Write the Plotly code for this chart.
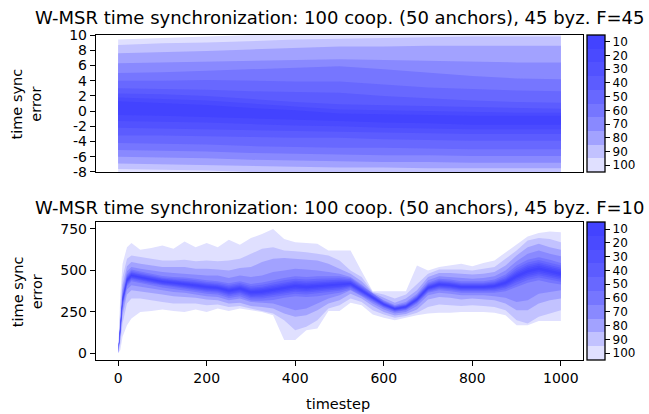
import plotly.graph_objects as go

# ---------------- data: top chart (F=45) ----------------
top_t = [0, 100, 200, 300, 400, 500, 600, 700, 800, 900, 1000]
top_u10 = [1.3, 1.0, 0.8, 0.4, 0.1, -0.3, -0.4, -0.5, -0.6, -0.6, -0.6]
top_l10 = [-0.5, -0.6, -0.8, -1.0, -1.1, -1.3, -1.5, -1.6, -1.8, -1.8, -1.8]
top_u20 = [1.8, 1.6, 1.4, 1.0, 0.6, 0.2, 0.1, 0.0, -0.1, -0.2, -0.2]
top_l20 = [-1.3, -1.4, -1.5, -1.7, -1.9, -2.0, -2.2, -2.3, -2.4, -2.4, -2.4]
top_u30 = [2.3, 2.2, 2.0, 1.6, 1.2, 0.9, 0.8, 0.6, 0.5, 0.4, 0.3]
top_l30 = [-2.2, -2.3, -2.4, -2.5, -2.6, -2.7, -2.8, -2.9, -3.0, -3.0, -3.0]
top_u40 = [3.0, 2.9, 2.8, 2.6, 2.5, 2.4, 2.0, 1.7, 1.4, 1.2, 1.1]
top_l40 = [-3.2, -3.2, -3.3, -3.4, -3.5, -3.5, -3.7, -3.8, -3.9, -3.9, -3.9]
top_u50 = [4.0, 4.0, 4.1, 4.0, 3.9, 3.9, 3.5, 3.1, 2.9, 2.7, 2.6]
top_l50 = [-4.2, -4.3, -4.4, -4.6, -4.7, -4.8, -4.8, -4.9, -5.0, -5.0, -5.0]
top_u60 = [5.0, 5.1, 5.3, 5.5, 5.7, 5.9, 5.5, 5.0, 4.6, 4.3, 4.2]
top_l60 = [-5.1, -5.2, -5.3, -5.5, -5.6, -5.7, -5.8, -5.8, -5.9, -5.9, -5.9]
top_u70 = [6.3, 6.4, 6.5, 6.6, 6.7, 6.8, 6.7, 6.6, 6.5, 6.4, 6.4]
top_l70 = [-6.0, -6.1, -6.2, -6.4, -6.5, -6.6, -6.7, -6.7, -6.8, -6.8, -6.8]
top_u80 = [7.6, 7.7, 7.9, 8.1, 8.3, 8.5, 8.5, 8.6, 8.6, 8.6, 8.6]
top_l80 = [-6.9, -7.0, -7.1, -7.2, -7.3, -7.4, -7.4, -7.5, -7.5, -7.5, -7.5]
top_u90 = [8.7, 8.9, 9.0, 9.2, 9.4, 9.5, 9.6, 9.7, 9.8, 9.8, 9.8]
top_l90 = [-7.6, -7.7, -7.8, -8.0, -8.1, -8.3, -8.3, -8.3, -8.3, -8.3, -8.3]
top_u100 = [9.4, 9.6, 9.8, 10.0, 10.1, 10.2, 10.3, 10.4, 10.4, 10.5, 10.5]
top_l100 = [-9.0, -9.1, -9.2, -9.3, -9.4, -9.5, -9.5, -9.5, -9.5, -9.4, -9.4]

# ---------------- data: bottom chart (F=10) ----------------
bot_t = [0, 5, 10, 20, 30, 50, 75, 100, 125, 150, 175, 200, 225, 250, 275,
         300, 325, 350, 375, 400, 425, 450, 475, 500, 525, 550, 575, 600, 625, 650,
         675, 700, 725, 750, 775, 800, 825, 850, 875, 900, 925, 950, 975, 1000]
bot_median = [0, 150, 320, 440, 470, 458, 445, 432, 425, 418, 410, 400, 395, 378, 390,
              368, 372, 382, 395, 405, 400, 405, 410, 415, 420, 378, 335, 295, 268, 280,
              325, 395, 415, 410, 400, 400, 400, 405, 425, 465, 495, 510, 495, 480]
# symmetric half-widths of the inner percentile bands
bot_w10 = [0, 4, 4, 4, 4, 4, 4, 4, 4, 5, 5, 5, 5, 5, 5, 6, 7, 7, 7, 7, 7, 7, 7, 6, 4, 4,
           3, 2, 2, 2, 3, 4, 4, 4, 4, 4, 4, 5, 6, 8, 8, 8, 8, 8]
bot_w20 = [0, 8, 9, 9, 9, 9, 9, 9, 9, 10, 10, 10, 10, 11, 11, 13, 14, 15, 15, 15, 15, 15,
           14, 13, 9, 8, 6, 5, 5, 5, 6, 8, 9, 9, 9, 9, 9, 10, 13, 16, 18, 18, 18, 16]
bot_w30 = [0, 12, 14, 14, 14, 14, 14, 14, 14, 16, 16, 16, 16, 18, 18, 20, 22, 24, 24, 24,
           24, 24, 22, 20, 14, 12, 9, 8, 7, 8, 10, 12, 14, 14, 14, 14, 14, 16, 20, 26, 28,
           28, 28, 26]
bot_w40 = [0, 17, 19, 19, 19, 19, 19, 19, 19, 22, 22, 22, 22, 25, 25, 28, 30, 33, 33, 33,
           33, 33, 30, 28, 19, 17, 12, 11, 10, 11, 14, 17, 19, 19, 19, 19, 19, 22, 28, 36,
           39, 39, 39, 36]
bot_w50 = [0, 23, 26, 26, 26, 26, 26, 26, 26, 30, 30, 30, 30, 34, 34, 38, 41, 45, 45, 45,
           45, 45, 41, 38, 26, 23, 17, 15, 14, 15, 19, 23, 26, 26, 26, 26, 26, 30, 38, 49,
           53, 53, 53, 49]
bot_w60 = [0, 30, 35, 35, 35, 35, 35, 35, 35, 40, 40, 40, 40, 45, 45, 50, 55, 60, 60, 60,
           60, 60, 55, 50, 35, 30, 22, 20, 18, 20, 25, 30, 35, 35, 35, 35, 35, 40, 50, 65,
           70, 70, 70, 65]
# outer percentile bands (asymmetric)
bot_u70 = [0, 200, 380, 495, 520, 510, 500, 490, 485, 480, 475, 470, 470, 455, 470,
           460, 470, 490, 500, 510, 505, 500, 490, 480, 460, 415, 360, 320, 292, 310,
           360, 440, 465, 460, 455, 450, 455, 465, 500, 555, 600, 620, 600, 585]
bot_l70 = [0, 110, 260, 385, 410, 400, 390, 380, 370, 365, 355, 345, 340, 320, 330,
           310, 305, 300, 280, 260, 270, 300, 330, 350, 380, 345, 300, 265, 240, 250,
           285, 350, 365, 360, 350, 350, 350, 345, 335, 310, 320, 360, 370, 380]
bot_u80 = [0, 230, 410, 525, 550, 540, 530, 520, 520, 520, 510, 510, 505, 500, 515,
           520, 550, 570, 575, 570, 565, 560, 540, 510, 480, 435, 365, 335, 305, 330,
           380, 460, 485, 485, 480, 475, 480, 490, 530, 590, 640, 660, 640, 625]
bot_l80 = [0, 90, 230, 355, 380, 375, 365, 355, 345, 340, 335, 325, 320, 300, 305,
           285, 280, 270, 240, 220, 230, 260, 300, 320, 360, 330, 285, 250, 228, 238,
           265, 325, 340, 335, 325, 330, 325, 320, 300, 260, 260, 300, 320, 330]
bot_u90 = [0, 280, 460, 570, 590, 580, 570, 560, 560, 565, 555, 560, 555, 560, 570,
           600, 630, 640, 620, 615, 610, 600, 590, 560, 500, 460, 370, 355, 330, 355,
           420, 480, 505, 505, 505, 500, 510, 520, 570, 620, 680, 695, 690, 670]
bot_l90 = [0, 60, 180, 300, 330, 330, 320, 310, 300, 300, 300, 290, 295, 280, 285,
           270, 255, 240, 200, 140, 160, 200, 270, 290, 330, 310, 260, 235, 215, 225,
           245, 280, 295, 290, 285, 290, 285, 280, 260, 200, 180, 220, 240, 260]
bot_u100 = [20, 360, 540, 640, 665, 625, 635, 650, 630, 675, 640, 665, 640, 685, 655,
            695, 720, 750, 690, 670, 665, 660, 620, 620, 620, 495, 375, 375, 375, 375,
            530, 500, 520, 530, 540, 525, 545, 560, 610, 655, 705, 725, 735, 730]
bot_l100 = [0, 20, 100, 170, 210, 250, 255, 265, 255, 250, 265, 250, 270, 255, 270,
            260, 250, 230, 80, 80, 140, 150, 255, 255, 305, 290, 235, 215, 200, 215,
            230, 240, 245, 245, 250, 250, 250, 245, 230, 170, 170, 195, 195, 195]

levels = [100, 90, 80, 70, 60, 50, 40, 30, 20, 10]
colorbar_labels = ["10", "20", "30", "40", "50", "60", "70", "80", "90", "100"]
top_yticks = [-8, -6, -4, -2, 0, 2, 4, 6, 8, 10]
bot_yticks = [0, 250, 500, 750]
x_ticks = [0, 200, 400, 600, 800, 1000]

# ---------------- styles ----------------
band_color = {
    10: "rgb(67,67,255)", 20: "rgb(74,74,255)", 30: "rgb(82,82,255)",
    40: "rgb(92,92,255)", 50: "rgb(104,104,255)", 60: "rgb(118,118,255)",
    70: "rgb(137,137,255)", 80: "rgb(162,162,255)", 90: "rgb(194,194,255)",
    100: "rgb(224,224,255)",
}
FONT = "DejaVu Sans"
TICK_SIZE = 14
CBAR_SIZE = 12
TITLE_SIZE = 18
LABEL_SIZE = 14.5

top_bounds = {
    10: (top_u10, top_l10), 20: (top_u20, top_l20), 30: (top_u30, top_l30),
    40: (top_u40, top_l40), 50: (top_u50, top_l50), 60: (top_u60, top_l60),
    70: (top_u70, top_l70), 80: (top_u80, top_l80), 90: (top_u90, top_l90),
    100: (top_u100, top_l100),
}
inner_w = {10: bot_w10, 20: bot_w20, 30: bot_w30, 40: bot_w40, 50: bot_w50, 60: bot_w60}
bot_bounds = {}
for lv, w in inner_w.items():
    bot_bounds[lv] = ([m + d for m, d in zip(bot_median, w)],
                      [m - d for m, d in zip(bot_median, w)])
bot_bounds[70] = (bot_u70, bot_l70)
bot_bounds[80] = (bot_u80, bot_l80)
bot_bounds[90] = (bot_u90, bot_l90)
bot_bounds[100] = (bot_u100, bot_l100)

fig = go.Figure()


def add_bands(t, bounds, xa, ya):
    for lv in levels:
        up, lo = bounds[lv]
        fig.add_trace(go.Scatter(
            x=list(t) + list(t)[::-1], y=list(up) + list(lo)[::-1],
            mode="lines", fill="toself", fillcolor=band_color[lv],
            line=dict(width=0, color=band_color[lv]),
            hoverinfo="skip", showlegend=False, xaxis=xa, yaxis=ya))


add_bands(top_t, top_bounds, "x", "y")
add_bands(bot_t, bot_bounds, "x2", "y2")

# discrete colour scale for the colour bars (10 at top, 100 at bottom)
cs = []
for k, lv in enumerate(levels):
    cs.append([k / 10, band_color[lv]])
    cs.append([(k + 1) / 10, band_color[lv]])

TOP_DOM = [0.5785, 1.0]
BOT_DOM = [0.0, 0.4237]


def add_cbar(dom, xa, ya):
    fig.add_trace(go.Scatter(
        x=[None], y=[None], mode="markers", xaxis=xa, yaxis=ya, showlegend=False,
        hoverinfo="skip",
        marker=dict(color=[50], cmin=5, cmax=105, colorscale=cs, showscale=True,
                    colorbar=dict(
                        x=1.009, xanchor="left", y=(dom[0] + dom[1]) / 2,
                        yanchor="middle", len=dom[1] - dom[0], lenmode="fraction",
                        thickness=18, thicknessmode="pixels", xpad=0, ypad=0,
                        outlinewidth=1.3, outlinecolor="black",
                        tickmode="array", tickvals=[110 - v for v in levels[::-1]],
                        ticktext=colorbar_labels, ticks="outside", ticklen=5,
                        tickwidth=1.2, tickcolor="black",
                        tickfont=dict(family=FONT, size=CBAR_SIZE, color="black")))))


add_cbar(TOP_DOM, "x", "y")
add_cbar(BOT_DOM, "x2", "y2")

axis_common = dict(showline=True, linecolor="black", linewidth=1.4, mirror=True,
                   showgrid=False, zeroline=False,
                   tickfont=dict(family=FONT, size=TICK_SIZE, color="black"))

fig.update_layout(
    width=649, height=414, plot_bgcolor="white", paper_bgcolor="white",
    margin=dict(l=96, r=66, t=35, b=54),
    font=dict(family=FONT, color="black"),
    xaxis=dict(domain=[0, 1], range=[-50, 1050], anchor="y", ticks="",
               showticklabels=False, **axis_common),
    yaxis=dict(domain=TOP_DOM, range=[-8, 10], anchor="x", ticks="outside",
               ticklen=5, tickwidth=1.2, tickcolor="black", tickvals=top_yticks,
               ticktext=[str(v) for v in top_yticks], **axis_common),
    xaxis2=dict(domain=[0, 1], range=[-50, 1050], anchor="y2", ticks="outside",
                ticklen=5, tickwidth=1.2, tickcolor="black", tickvals=x_ticks,
                **axis_common),
    yaxis2=dict(domain=BOT_DOM, range=[-40, 790], anchor="x2", ticks="outside",
                ticklen=5, tickwidth=1.2, tickcolor="black", tickvals=bot_yticks,
                **axis_common),
)

ann_font = dict(family=FONT, size=TITLE_SIZE, color="black")
lab_font = dict(family=FONT, size=LABEL_SIZE, color="black")
fig.add_annotation(text="W-MSR time synchronization: 100 coop. (50 anchors), 45 byz. F=45",
                   xref="paper", yref="paper", x=0.5, y=1.053, xanchor="center",
                   yanchor="middle", showarrow=False, font=ann_font)
fig.add_annotation(text="W-MSR time synchronization: 100 coop. (50 anchors), 45 byz. F=10",
                   xref="paper", yref="paper", x=0.5, y=0.468, xanchor="center",
                   yanchor="middle", showarrow=False, font=ann_font)
fig.add_annotation(text="time sync<br>error", xref="paper", yref="paper",
                   x=-0.1417, y=(TOP_DOM[0] + TOP_DOM[1]) / 2, textangle=-90,
                   xanchor="center", yanchor="middle", showarrow=False, font=lab_font)
fig.add_annotation(text="time sync<br>error", xref="paper", yref="paper",
                   x=-0.1417, y=(BOT_DOM[0] + BOT_DOM[1]) / 2, textangle=-90,
                   xanchor="center", yanchor="middle", showarrow=False, font=lab_font)
fig.add_annotation(text="timestep", xref="paper", yref="paper", x=0.497, y=-0.135,
                   xanchor="center", yanchor="middle", showarrow=False, font=lab_font)

fig.write_html("out.html")
